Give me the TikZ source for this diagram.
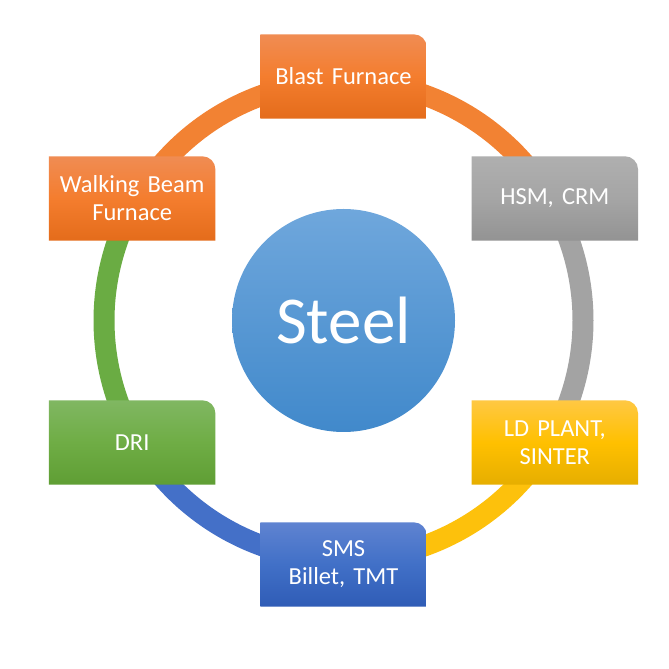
\documentclass[tikz,border=0pt]{standalone}
\usepackage{fontspec}
\setmainfont{Carlito}
\usetikzlibrary{backgrounds,calc}
\definecolor{orT}{HTML}{F08C53}
\definecolor{orM}{HTML}{F47D2E}
\definecolor{orB}{HTML}{E46C1B}
\definecolor{grT}{HTML}{AFAFAF}
\definecolor{grM}{HTML}{A5A5A5}
\definecolor{grB}{HTML}{939393}
\definecolor{yeT}{HTML}{FFC843}
\definecolor{yeM}{HTML}{FFC000}
\definecolor{yeB}{HTML}{E6AE00}
\definecolor{blT}{HTML}{5F83D1}
\definecolor{blM}{HTML}{4170C7}
\definecolor{blB}{HTML}{2F5CB6}
\definecolor{gnT}{HTML}{80B762}
\definecolor{gnM}{HTML}{6FAD45}
\definecolor{gnB}{HTML}{5F9E34}
\definecolor{ciT}{HTML}{6FA7DC}
\definecolor{ciB}{HTML}{4189CB}
\definecolor{ringO}{HTML}{F28233}
\definecolor{ringG}{HTML}{A3A3A3}
\definecolor{ringY}{HTML}{FDC10C}
\definecolor{ringB}{HTML}{4470C8}
\definecolor{ringN}{HTML}{6AAC43}
\newcommand\myboxshape[4]{%
  \shade[top color=#2, bottom color=#4, middle color=#3]
    (#1.south west) -- (#1.south east) -- ([yshift=-13pt]#1.north east)
    arc[start angle=0, end angle=90, radius=13pt] -- (#1.north west) -- cycle;}
\tikzset{
  stagebox/.style={minimum width=166pt, minimum height=84pt, inner sep=0pt,
    text width=160pt, align=center, text=white,
    font=\fontsize{24.5}{28}\selectfont},
  ringseg/.style={line width=21pt, line cap=butt},
}
\begin{document}
\begin{tikzpicture}[x=1pt,y=1pt]
\useasboundingbox (0,0) rectangle (669,669);
\coordinate (C) at (343.5,348.5);
\node[stagebox] (bf)  at ($(C)+(90:244)$)   {Blast Furnace};
\node[stagebox] (hsm) at ($(C)+(30:244)$)   {HSM, CRM};
\node[stagebox] (ld)  at ($(C)+(-30:244)$)  {LD PLANT,\\SINTER};
\node[stagebox] (sms) at ($(C)+(-90:244)$)  {SMS\\Billet, TMT};
\node[stagebox] (dri) at ($(C)+(-150:244)$) {DRI};
\node[stagebox] (wbf) at ($(C)+(150:244)$)  {Walking Beam\\Furnace};
\node[circle, minimum size=223pt, inner sep=0pt, top color=ciT, bottom color=ciB,
      text=white, font=\fontsize{67}{70}\selectfont] (steel) at (C) {Steel};
\begin{scope}[on background layer]
  \fill[white] (0,0) rectangle (669,669);
  \draw[ringseg, ringO] ($(C)+(150:239.5)$) arc[start angle=150, end angle=30, radius=239.5];
  \draw[ringseg, ringG] ($(C)+(30:239.5)$) arc[start angle=30, end angle=-30, radius=239.5];
  \draw[ringseg, ringY] ($(C)+(-30:239.5)$) arc[start angle=-30, end angle=-90, radius=239.5];
  \draw[ringseg, ringB] ($(C)+(-90:239.5)$) arc[start angle=-90, end angle=-150, radius=239.5];
  \draw[ringseg, ringN] ($(C)+(-150:239.5)$) arc[start angle=-150, end angle=-210, radius=239.5];
  \myboxshape{bf}{orT}{orM}{orB}
  \myboxshape{hsm}{grT}{grM}{grB}
  \myboxshape{ld}{yeT}{yeM}{yeB}
  \myboxshape{sms}{blT}{blM}{blB}
  \myboxshape{dri}{gnT}{gnM}{gnB}
  \myboxshape{wbf}{orT}{orM}{orB}
\end{scope}
\end{tikzpicture}
\end{document}
